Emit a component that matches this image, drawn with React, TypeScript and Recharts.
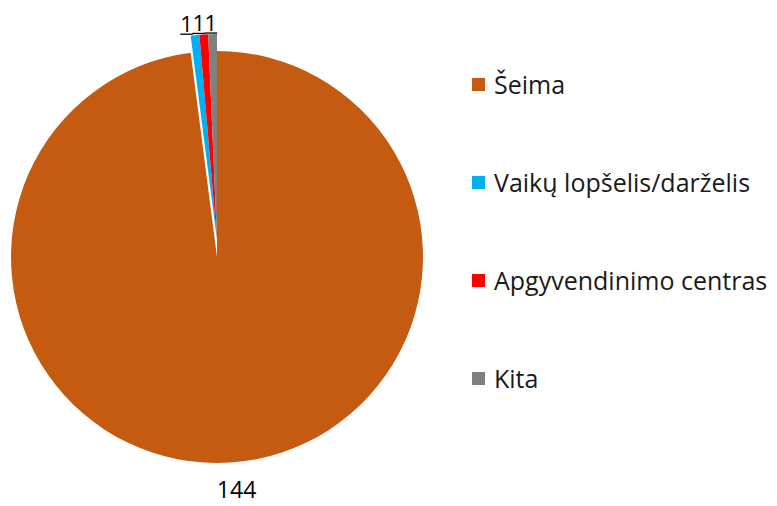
import React from "react";
import { PieChart, Pie, Cell, Legend } from "recharts";

const categories = ["Šeima", "Vaikų lopšelis/darželis", "Apgyvendinimo centras", "Kita"];
const values = [144, 1, 1, 1];
const colors = ["#C55A11", "#00B0F0", "#FF0000", "#808080"];

const data = categories.map((name, i) => ({ name, value: values[i] }));

const FONT = "'Open Sans', sans-serif";
const RAD = Math.PI / 180;

const renderLabel = (props: any) => {
  const { cx, cy, outerRadius, midAngle, value, index } = props;
  const c = Math.cos(-midAngle * RAD);
  const s = Math.sin(-midAngle * RAD);
  if (index === 0) {
    const r = outerRadius + 53;
    const x = cx + r * c + 3;
    const y = cy + r * s;
    return (
      <text x={x} y={y} textAnchor="middle" fill="#000" fontSize={23} fontFamily={FONT}>
        {value}
      </text>
    );
  }
  const x = cx + (outerRadius + 79) * c;
  const y = cy + (outerRadius + 3) * s;
  return (
    <g>
      <text x={x} y={y} textAnchor="middle" fill="#000" fontSize={22} fontFamily={FONT}>
        {value}
      </text>
      <line x1={x - 6.3} x2={x + 6.3} y1={y + 2} y2={y + 2} stroke="#000" strokeWidth={1.3} />
    </g>
  );
};

const renderLegend = () => (
  <div style={{ fontFamily: FONT, fontSize: 25, color: "#1a1a1a" }}>
    {categories.map((c, i) => (
      <div key={c} style={{ display: "flex", alignItems: "center", height: 98 }}>
        <span style={{ display: "inline-block", width: 13, height: 13, background: colors[i], marginRight: 9, flexShrink: 0 }} />
        <span style={{ whiteSpace: "nowrap" }}>{c}</span>
      </div>
    ))}
  </div>
);

export default function App() {
  return (
    <div style={{ position: "absolute", left: 0, top: 0, background: "#fff" }}>
      <PieChart width={777} height={506} margin={{ top: 0, right: 0, bottom: 0, left: 0 }}>
        <Pie
          data={data}
          dataKey="value"
          nameKey="name"
          cx={217}
          cy={257}
          outerRadius={206}
          startAngle={90}
          endAngle={-270}
          stroke="none"
          isAnimationActive={false}
          label={false}
          labelLine={false}
          legendType="none"
        >
          {data.map((d, i) => (
            <Cell key={d.name} fill={i === 0 ? colors[i] : "transparent"} />
          ))}
        </Pie>
        <Pie
          data={data}
          dataKey="value"
          nameKey="name"
          cx={217}
          cy={240}
          outerRadius={206}
          startAngle={90}
          endAngle={-270}
          stroke="none"
          isAnimationActive={false}
          label={renderLabel}
          labelLine={false}
        >
          {data.map((d, i) => (
            <Cell key={d.name} fill={i === 0 ? "transparent" : colors[i]} />
          ))}
        </Pie>
        <Legend
          layout="vertical"
          align="right"
          verticalAlign="top"
          content={renderLegend}
          wrapperStyle={{ left: 472, top: 35, width: 305 }}
        />
      </PieChart>
    </div>
  );
}
